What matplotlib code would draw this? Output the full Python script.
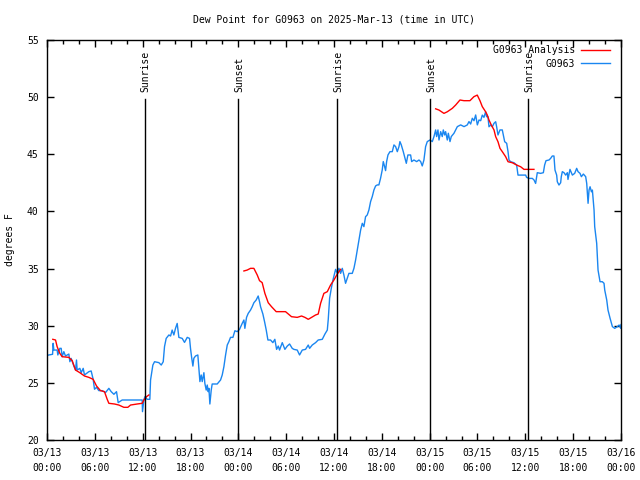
import numpy as np
import matplotlib
matplotlib.use("Agg")
import matplotlib.pyplot as plt
from matplotlib.ticker import FixedLocator, MultipleLocator

# ---- data (hours since 2025-03-13 00:00 UTC, dew point in F) ----
obs_hours = [0.0, 0.23, 0.70, 0.77, 0.86, 1.27, 1.36, 1.61, 1.78, 1.90, 2.11, 2.32, 2.74, 2.87, 3.03, 3.24,
             3.37, 3.58, 3.70, 3.78, 4.12, 4.29, 4.54, 4.70, 4.96, 5.25, 5.54, 5.79, 5.96, 6.21, 6.50, 6.92,
             7.34, 7.76, 8.05, 8.39, 8.72, 8.93, 9.43, 11.94, 11.98, 12.15, 12.28, 12.57, 12.90, 12.99, 13.28,
             13.49, 14.03, 14.33, 14.58, 14.74, 14.95, 15.29, 15.50, 15.70, 15.91, 16.12, 16.33, 16.54, 16.96,
             17.25, 17.59, 17.88, 18.00, 18.13, 18.30, 18.42, 18.63, 18.92, 19.05, 19.18, 19.34, 19.47, 19.68,
             19.80, 19.97, 20.10, 20.22, 20.31, 20.43, 20.60, 20.72, 21.35, 21.77, 21.98, 22.19, 22.40, 22.61,
             22.81, 23.02, 23.32, 23.57, 23.86, 24.15, 24.49, 24.70, 24.82, 25.03, 25.24, 25.53, 25.74, 25.95,
             26.24, 26.49, 26.66, 26.79, 27.08, 27.29, 27.50, 27.71, 28.04, 28.33, 28.58, 28.80, 29.01, 29.17,
             29.51, 29.84, 30.14, 30.43, 30.76, 30.97, 31.39, 31.68, 32.02, 32.43, 32.77, 32.94, 33.27, 33.69,
             34.02, 34.53, 34.86, 35.16, 35.28, 35.45, 35.66, 35.87, 36.08, 36.20, 36.41, 36.62, 36.83, 37.04,
             37.24, 37.45, 37.66, 37.87, 38.29, 38.50, 38.71, 38.92, 39.13, 39.34, 39.55, 39.75, 39.96, 40.17,
             40.38, 40.59, 40.80, 41.01, 41.22, 41.43, 41.63, 41.84, 42.05, 42.18, 42.35, 42.47, 42.60, 42.77,
             43.02, 43.31, 43.52, 43.73, 43.94, 44.15, 44.27, 44.44, 44.69, 44.86, 45.07, 45.27, 45.61, 45.74,
             46.03, 46.37, 46.66, 46.87, 47.07, 47.28, 47.49, 47.70, 48.04, 48.33, 48.54, 48.75, 48.87, 49.04,
             49.17, 49.38, 49.58, 49.71, 49.88, 50.00, 50.21, 50.34, 50.55, 50.71, 51.05, 51.26, 51.47, 51.89,
             52.31, 52.72, 52.93, 53.14, 53.35, 53.56, 53.77, 53.98, 54.19, 54.40, 54.60, 54.81, 55.02, 55.14,
             55.31, 55.44, 55.65, 55.86, 56.07, 56.28, 56.40, 56.57, 56.82, 57.11, 57.24, 57.41, 57.66, 57.83,
             57.95, 58.16, 58.58, 58.91, 59.08, 59.41, 60.04, 60.16, 60.45, 60.88, 61.09, 61.29, 61.50, 61.92,
             62.26, 62.42, 62.59, 62.97, 63.17, 63.38, 63.59, 63.72, 63.93, 64.01, 64.22, 64.43, 64.51, 64.64,
             64.85, 65.06, 65.27, 65.35, 65.60, 65.90, 66.19, 66.44, 66.61, 66.86, 67.03, 67.28, 67.57, 67.70,
             67.78, 67.87, 67.99, 68.12, 68.29, 68.41, 68.62, 68.70, 68.95, 69.12, 69.37, 69.66, 69.87, 69.96,
             70.21, 70.37, 70.63, 70.92, 71.21, 71.55, 71.76, 71.97, 72.0]
obs_values = [27.4, 27.44, 27.5, 28.46, 27.87, 27.87, 27.44, 28.02, 28.02, 27.29, 27.73, 27.35, 27.52, 26.85, 27.14, 26.71,
              26.47, 26.12, 27.0, 26.12, 26.27, 25.89, 26.27, 25.69, 25.83, 25.98, 26.04, 25.31, 24.44, 24.61, 24.32, 24.32,
              24.15, 24.52, 24.23, 24.0, 24.23, 23.27, 23.5, 23.5, 22.48, 23.5, 23.79, 23.56, 23.56, 25.25, 26.56,
              26.85, 26.77, 26.56, 26.85, 28.17, 28.89, 29.19, 29.10, 29.62, 29.19, 29.77, 30.2, 28.98, 28.89,
              28.54, 28.98, 28.89, 28.02, 27.29, 26.47, 27.15, 27.35, 27.44, 26.27, 25.11, 25.69, 25.11, 25.89,
              24.96, 24.37, 24.81, 24.23, 24.52, 23.15, 24.37, 24.9, 24.9, 25.25, 25.69, 26.42, 27.44, 28.31,
              28.6, 28.98, 28.98, 29.56, 29.48, 29.68, 30.21, 30.5, 29.77, 30.73, 31.08, 31.37, 31.66, 32.01,
              32.25, 32.6, 32.1, 31.66, 31.02, 30.35, 29.62, 28.75, 28.75, 28.52, 28.81, 27.93, 28.22, 27.87,
              28.52, 27.93, 28.22, 28.4, 28.02, 27.93, 27.87, 27.44, 27.87, 27.93, 28.31, 28.02, 28.31, 28.52,
              28.75, 28.81, 29.27, 29.62, 30.56, 32.4, 33.27, 34.0, 34.58, 34.93, 34.58, 35.02, 34.58, 35.02,
              34.44, 33.71, 34.15, 34.58, 34.58, 35.02, 35.75, 36.62, 37.5, 38.37, 38.96, 38.67, 39.54, 39.69,
              40.13, 40.86, 41.3, 41.88, 42.23, 42.32, 42.32, 42.9, 43.63, 44.36, 43.92, 43.57, 44.36, 44.94,
              45.23, 45.23, 45.82, 45.67, 45.23, 45.67, 46.11, 45.82, 45.23, 44.79, 44.21, 44.94, 44.94, 44.36,
              44.5, 44.36, 44.5, 44.36, 43.98, 44.5, 45.67, 46.11, 46.25, 46.11, 46.55, 47.13, 46.55, 47.13,
              46.25, 46.98, 46.55, 47.13, 46.69, 46.98, 46.25, 46.84, 46.11, 46.55, 46.84, 47.13, 47.42, 47.57,
              47.42, 47.57, 47.86, 47.65, 48.15, 47.94, 48.44, 47.57, 48.0, 47.94, 48.43, 48.23, 48.72, 48.29,
              48.29, 47.41, 47.56, 47.41, 47.71, 47.85, 47.41, 46.69, 47.13, 47.13, 46.69, 46.1, 45.96, 45.23,
              44.5, 44.35, 44.26, 44.06, 43.18, 43.18, 43.18, 42.98, 42.89, 42.89, 42.75, 42.45, 43.39, 43.33,
              43.39, 44.06, 44.44, 44.5, 44.64, 44.85, 44.85, 43.62, 43.18, 42.6, 42.31, 42.51, 43.04, 43.48,
              43.39, 43.18, 43.39, 42.8, 43.68, 43.18, 43.33, 43.77, 43.48, 43.33, 43.04, 43.27, 43.04, 42.45,
              41.58, 40.71, 41.87, 42.16, 41.72, 41.87, 40.12, 38.67, 37.21, 34.87, 33.85, 33.85, 33.71, 33.12,
              32.25, 31.37, 30.65, 29.92, 29.77, 29.92, 30.06, 29.77, 30.1]

ana_seg1_hours = [0.73, 1.07, 1.27, 1.61, 1.90, 2.74, 3.16, 3.58, 4.12, 4.70, 5.25, 5.79, 6.21, 6.71, 7.21,
                  7.55, 7.76, 8.47, 9.01, 9.64, 10.14, 10.48, 11.31, 11.94, 12.15, 12.48, 12.78]
ana_seg1_values = [28.81, 28.75, 28.17, 27.58, 27.29, 27.23, 26.94, 26.12, 25.89, 25.6, 25.48, 25.31, 24.73, 24.32, 24.23,
                   23.56, 23.21, 23.15, 23.06, 22.86, 22.86, 23.06, 23.15, 23.21, 23.5, 23.79, 23.94]
ana_seg2_hours = [24.70, 25.11, 25.53, 25.95, 26.37, 26.66, 26.99, 27.33, 27.75, 28.17, 28.75, 29.92, 30.67,
                  31.39, 31.93, 32.35, 32.77, 33.19, 33.69, 34.02, 34.32, 34.73, 35.16, 35.57, 35.99, 36.41, 36.83]
ana_seg2_values = [34.79, 34.87, 35.02, 35.02, 34.44, 33.94, 33.77, 32.83, 32.01, 31.66, 31.23, 31.23, 30.79,
                   30.73, 30.85, 30.73, 30.56, 30.73, 30.94, 31.02, 31.96, 32.83, 32.98, 33.56, 34.0, 34.52, 34.93]
ana_seg3_hours = [48.75, 49.17, 49.79, 50.21, 50.84, 51.26, 51.80, 52.30, 53.05, 53.55, 53.97, 54.31, 54.60,
                  55.02, 55.23, 55.44, 55.73, 56.07, 56.28, 56.57, 56.82, 57.11, 57.53, 57.83, 58.37, 58.91,
                  59.41, 59.83, 61.08]
ana_seg3_values = [48.98, 48.87, 48.58, 48.72, 49.02, 49.31, 49.75, 49.69, 49.69, 50.04, 50.18, 49.69, 49.17,
                   48.72, 48.43, 48.0, 47.56, 47.13, 46.54, 46.10, 45.52, 45.23, 44.79, 44.35, 44.26, 44.06,
                   43.91, 43.68, 43.68]

event_hours = [12.25, 23.93, 36.35, 48.03, 60.3]
event_labels = ["Sunrise", "Sunset", "Sunrise", "Sunset", "Sunrise"]

xtick_hours = list(range(0, 73, 6))
xtick_labels = ["03/13\n00:00", "03/13\n06:00", "03/13\n12:00", "03/13\n18:00",
                "03/14\n00:00", "03/14\n06:00", "03/14\n12:00", "03/14\n18:00",
                "03/15\n00:00", "03/15\n06:00", "03/15\n12:00", "03/15\n18:00",
                "03/16\n00:00"]
ytick_values = [20, 25, 30, 35, 40, 45, 50, 55]

title = "Dew Point for G0963 on 2025-Mar-13 (time in UTC)"
obs_name = "G0963"
ana_name = "G0963 Analysis"

# ---- styling ----
FONT = "DejaVu Sans Mono"
FS = 7
plt.rcParams['font.family'] = FONT
RED = "#ff0000"
BLUE = "#1a86f0"

fig = plt.figure(figsize=(6.4, 4.8), dpi=100)
ax = fig.add_axes([47/640, 40/480, 574/640, 400/480])

ana_h = ana_seg1_hours + [np.nan] + ana_seg2_hours + [np.nan] + ana_seg3_hours
ana_v = ana_seg1_values + [np.nan] + ana_seg2_values + [np.nan] + ana_seg3_values
ax.plot(ana_h, ana_v, color=RED, lw=1.0, label=ana_name, zorder=3)
ax.plot(obs_hours, obs_values, color=BLUE, lw=1.0, label=obs_name, zorder=2)

ax.set_xlim(0, 72)
ax.set_ylim(20, 55)

for h, lab in zip(event_hours, event_labels):
    ax.plot([h, h], [20, 49.85], color="black", lw=1.0, zorder=4)
    ax.text(h + 0.15, 50.45, lab, rotation=90, ha="center", va="bottom",
            fontsize=FS, family=FONT, zorder=5)

ax.xaxis.set_major_locator(FixedLocator(xtick_hours))
ax.set_xticklabels(xtick_labels)
ax.xaxis.set_minor_locator(MultipleLocator(2))
ax.yaxis.set_major_locator(FixedLocator(ytick_values))
ax.set_yticklabels([str(v) for v in ytick_values])

ax.tick_params(axis="both", which="both", direction="in", top=True, right=True,
               labelsize=FS, width=1.0, color="black")
ax.tick_params(axis="both", which="major", length=5)
ax.tick_params(axis="both", which="minor", length=3)
ax.tick_params(axis="x", which="major", pad=6)
ax.tick_params(axis="y", which="major", pad=6)
for lbl in ax.get_xticklabels():
    lbl.set_linespacing(1.6)
for s in ax.spines.values():
    s.set_linewidth(1.0)
    s.set_color("black")

leg = ax.legend(loc="upper right", bbox_to_anchor=(0.981, 0.987), frameon=False,
                markerfirst=False, fontsize=FS, handlelength=3.0, handletextpad=0.6,
                labelspacing=0.35, borderaxespad=0, borderpad=0)

fig.text(334/640, 1 - 19/480, title, ha="center", va="center", fontsize=FS)
fig.text(10/640, 240/480, "degrees F", rotation=90, ha="center", va="center", fontsize=FS)

fig.savefig("out.png", dpi=100)
